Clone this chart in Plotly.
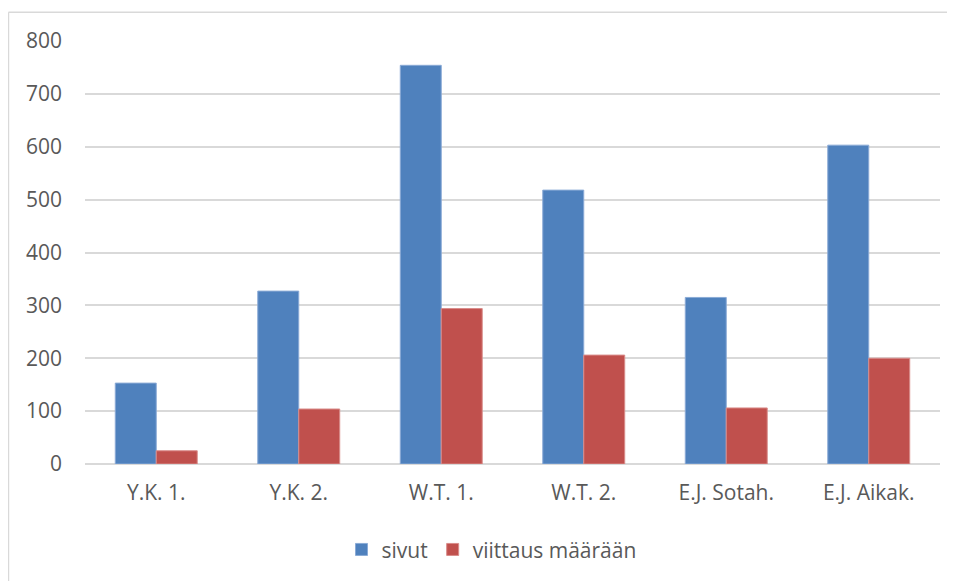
import plotly.graph_objects as go

categories = ["Y.K. 1.", "Y.K. 2.", "W.T. 1.", "W.T. 2.", "E.J. Sotah.", "E.J. Aikak."]
sivut = [153, 327, 754, 518, 315, 603]
viittaus = [25, 104, 294, 206, 106, 200]
y_ticks = [0, 100, 200, 300, 400, 500, 600, 700, 800]

font_family = "Open Sans, Noto Sans, sans-serif"
text_color = "#595959"
fs = 21

fig = go.Figure()
fig.add_trace(go.Bar(x=categories, y=sivut, name="sivut",
                     marker=dict(color="#4F81BD", line=dict(color="#8AAAD6", width=1))))
fig.add_trace(go.Bar(x=categories, y=viittaus, name="viittaus määrään",
                     marker=dict(color="#C0504D", line=dict(color="#D98C8A", width=1))))

fig.update_layout(
    width=947, height=573,
    margin=dict(l=77, r=15, t=33, b=116),
    paper_bgcolor="white", plot_bgcolor="white",
    barmode="group", bargap=0.425, bargroupgap=0,
    font=dict(family=font_family, size=fs, color=text_color),
    showlegend=True,
    legend=dict(orientation="h", x=0.30, xanchor="left", y=-0.2, yanchor="middle",
                font=dict(size=fs, color=text_color), itemwidth=30,
                traceorder="normal"),
    xaxis=dict(showgrid=False, showline=False, ticks="", zeroline=False,
               ticklabelstandoff=14,
               tickfont=dict(size=fs, color=text_color)),
    yaxis=dict(range=[0, 800], tickvals=y_ticks, showgrid=True, gridcolor="#D9D9D9",
               gridwidth=1.5, zeroline=True, zerolinecolor="#D9D9D9", zerolinewidth=1.5,
               showline=False, ticks="", ticklabelstandoff=22,
               tickfont=dict(size=fs, color=text_color)),
    shapes=[
        dict(type="line", xref="paper", yref="paper", x0=-0.0895, x1=-0.0895, y0=1.068, y1=-0.4,
             line=dict(color="#D9D9D9", width=1.5)),
        dict(type="line", xref="paper", yref="paper", x0=-0.0895, x1=1.1, y0=1.068, y1=1.068,
             line=dict(color="#D9D9D9", width=1.5)),
    ],
)

fig.write_html("out.html")
